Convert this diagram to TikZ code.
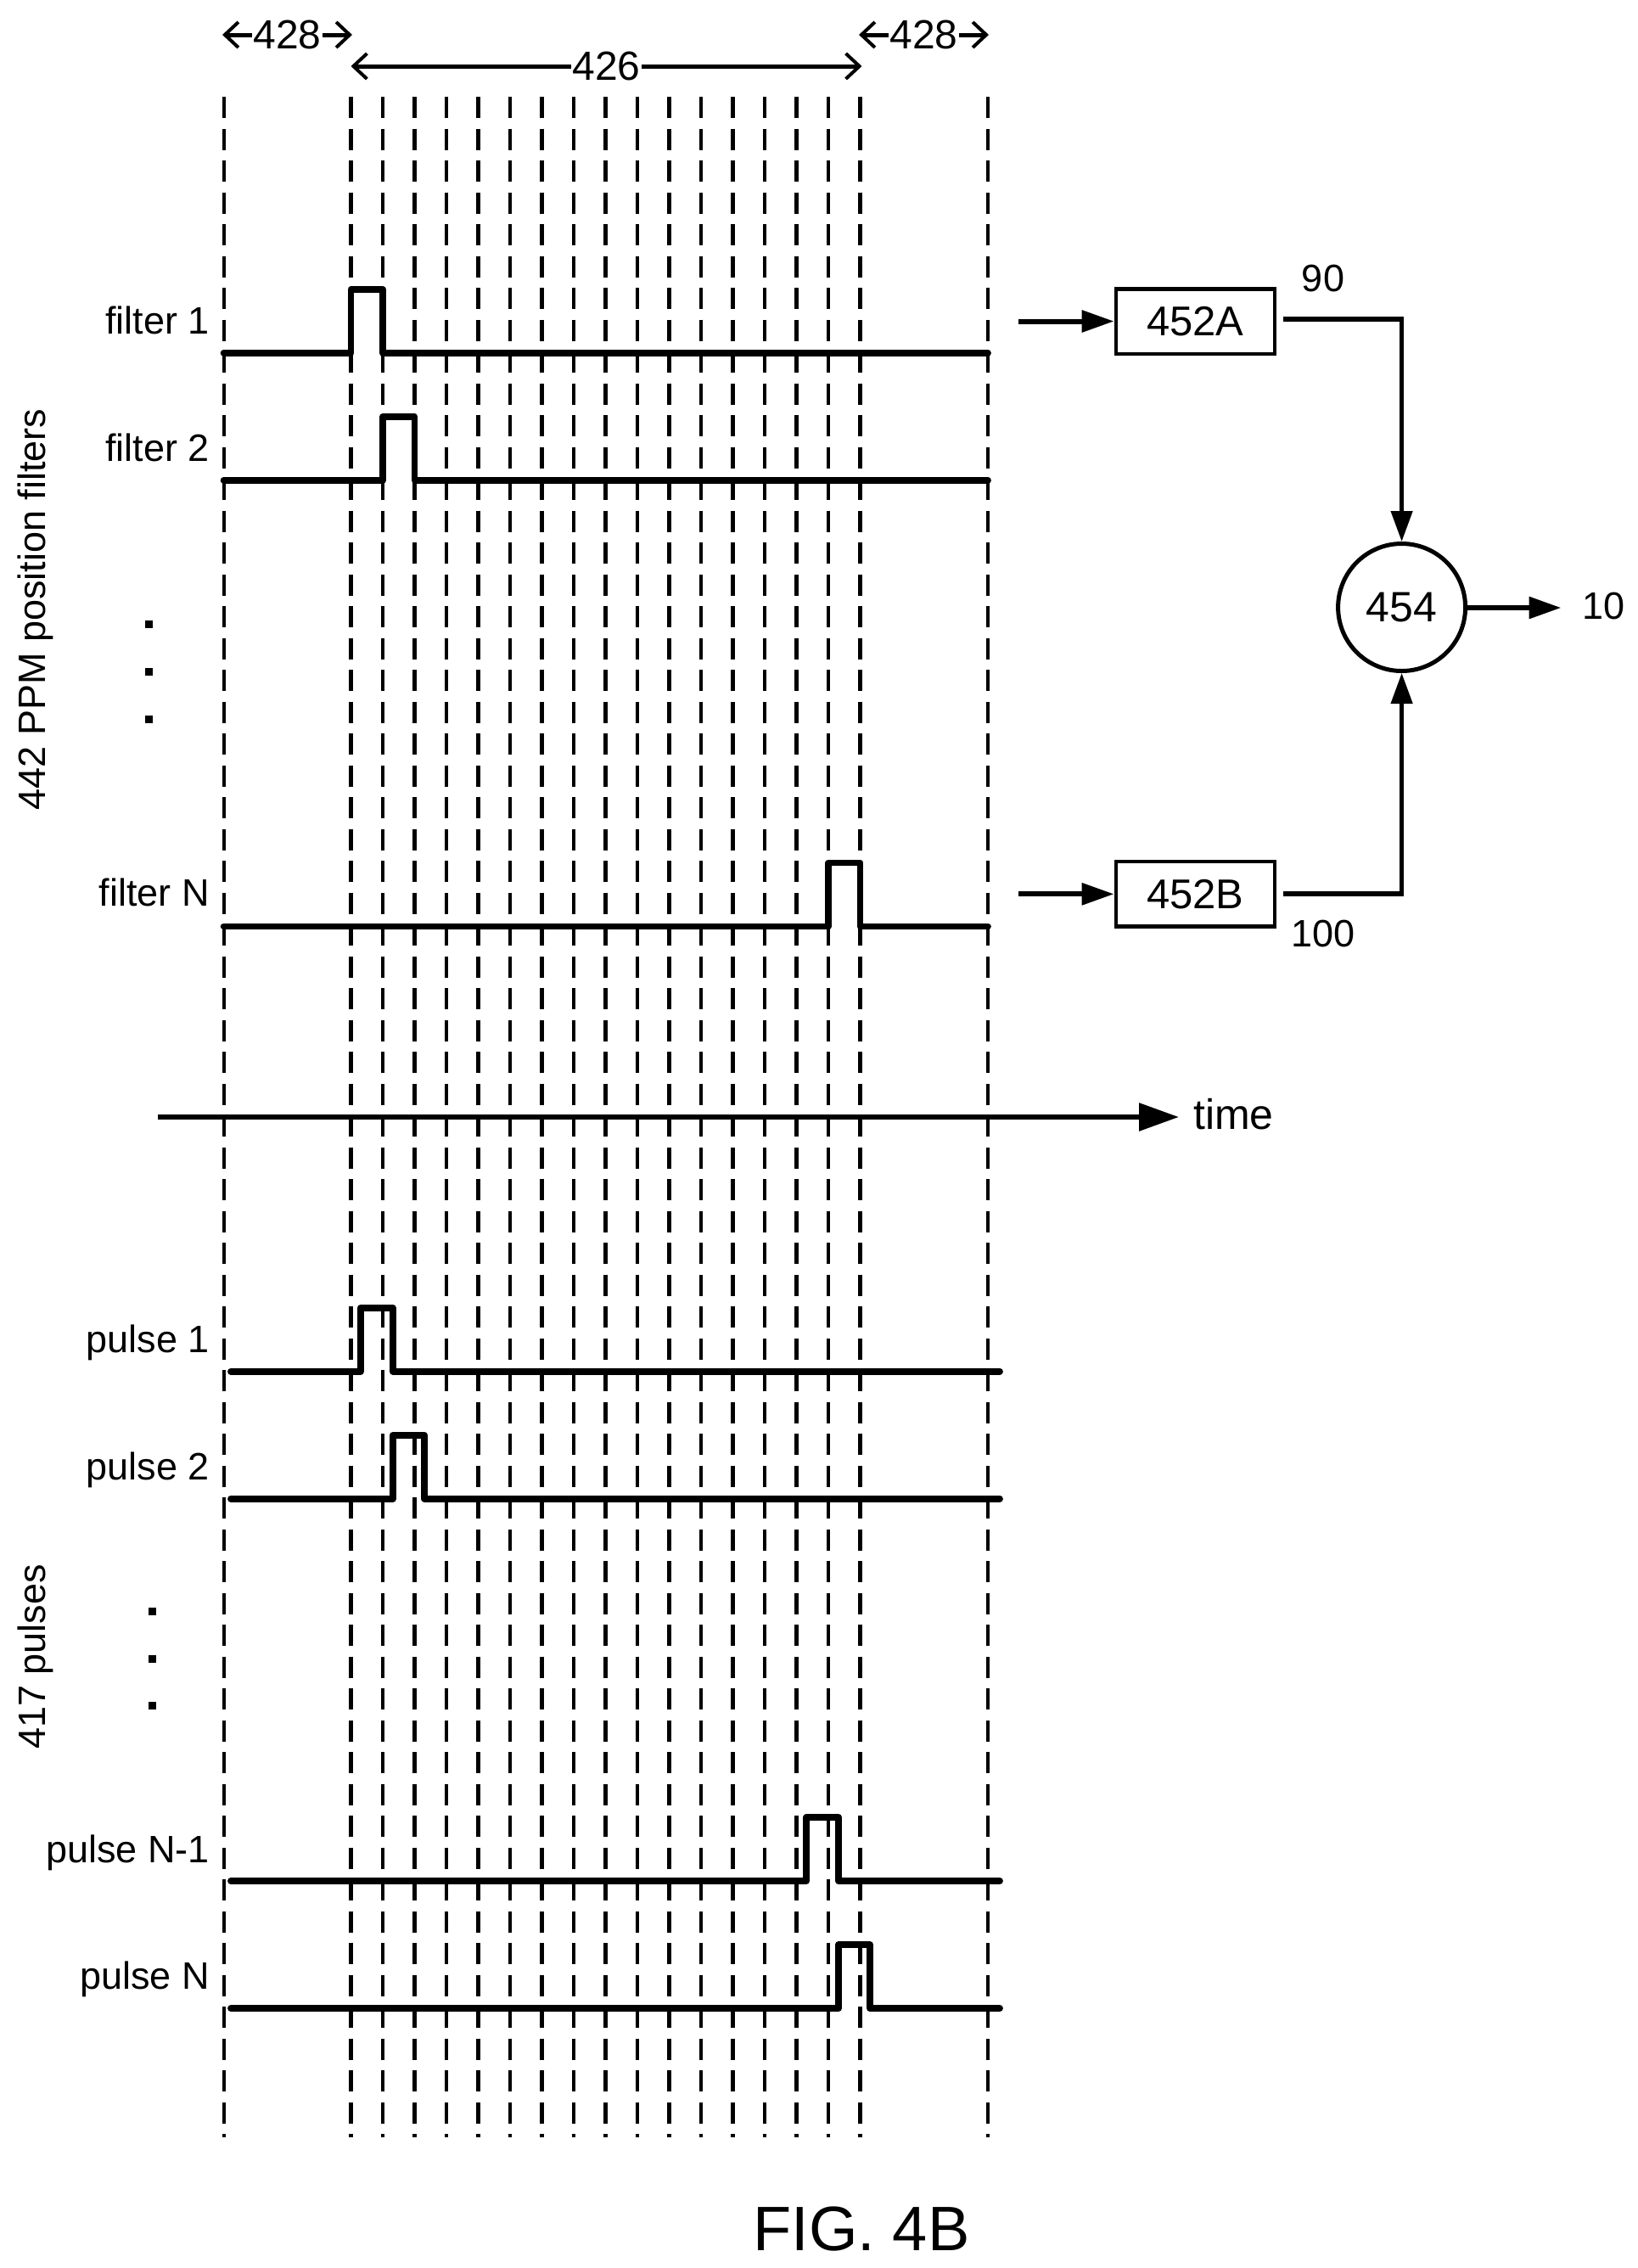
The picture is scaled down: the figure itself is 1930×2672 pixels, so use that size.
\documentclass[tikz,border=0pt]{standalone}
\usepackage{fontspec}
\setmainfont{Liberation Sans}
\usetikzlibrary{arrows.meta,calc}
\newcommand{\fs}[1]{\fontsize{#1}{#1}\selectfont}
\tikzset{
  x=1pt,y=-1pt,
  gridline/.style={line width=4.2pt,dash pattern=on 25pt off 12.5pt},
  signal/.style={line width=7.8pt,line join=round,line cap=round},
  hwire/.style={line width=6pt},
  vwire/.style={line width=4.5pt},
  hflow/.style={hwire,-{Triangle[length=38pt,width=25pt]}},
  vflow/.style={vwire,-{Triangle[length=36pt,width=25pt]}},
  bigflow/.style={hwire,-{Triangle[length=47pt,width=32pt]}},
  span/.style={line width=5pt,{Straight Barb[length=16pt,width=30pt,line width=4pt]}-{Straight Barb[length=16pt,width=30pt,line width=4pt]}},
  lab/.style={font=\fs{45},inner sep=0pt,anchor=base east},
  num/.style={font=\fs{45},inner sep=0pt},
  dim/.style={font=\fs{48},inner sep=0pt,fill=white,inner xsep=1pt},
  blockbox/.style={draw,line width=4.5pt,minimum width=187pt,minimum height=76.5pt,inner sep=0pt,font=\fs{49}},
  sumnode/.style={draw,circle,line width=5pt,minimum size=150pt,inner sep=0pt,font=\fs{50}},
  dotmark/.style={fill,minimum width=9.3pt,minimum height=9pt,inner sep=0pt}
}
\begin{document}
\begin{tikzpicture}
\useasboundingbox (0,0) rectangle (1930,2672);
% vertical dashed lines
\foreach \xx in {263.6,1164}{\draw[gridline] (\xx,114) -- (\xx,2518);}
\foreach \i in {0,...,16}{\draw[gridline] ({413.5+37.5*\i},114) -- ({413.5+37.5*\i},2518);}
% span arrows
\coordinate (a1) at (262,41); \coordinate (a2) at (415,41);
\coordinate (b1) at (413.5,78); \coordinate (b2) at (1015.5,78);
\coordinate (c1) at (1012,41); \coordinate (c2) at (1165,41);
\draw[span] (a1) -- node[dim] (l428a) {428} (a2);
\draw[span] (b1) -- node[dim] (l426) {426} (b2);
\draw[span] (c1) -- node[dim] (l428b) {428} (c2);
% filter signals
\draw[signal] (263.6,415.7)--(413.5,415.7)--(413.5,341)--(451,341)--(451,415.7)--(1164,415.7);
\draw[signal] (263.6,565.7)--(451,565.7)--(451,491)--(488.5,491)--(488.5,565.7)--(1164,565.7);
\draw[signal] (263.6,1091.5)--(976,1091.5)--(976,1016.5)--(1013.5,1016.5)--(1013.5,1091.5)--(1164,1091.5);
% pulse signals
\draw[signal] (272,1615.7)--(424.7,1615.7)--(424.7,1540.7)--(462.7,1540.7)--(462.7,1615.7)--(1178,1615.7);
\draw[signal] (272,1765.7)--(462.7,1765.7)--(462.7,1690.7)--(500,1690.7)--(500,1765.7)--(1178,1765.7);
\draw[signal] (272,2216)--(950,2216)--(950,2141)--(988,2141)--(988,2216)--(1178,2216);
\draw[signal] (272,2366)--(988,2366)--(988,2291)--(1025,2291)--(1025,2366)--(1178,2366);
% labels
\node[lab] (f1) at (247,393) {filter 1};
\node[lab] (f2) at (247,543) {filter 2};
\node[lab] (fN) at (247,1067) {filter N};
\node[lab] (p1) at (247,1593) {pulse 1};
\node[lab] (p2) at (247,1743) {pulse 2};
\node[lab] (pN1) at (247,2194) {pulse N-1};
\node[lab] (pN) at (247,2343) {pulse N};
\node[num,rotate=90,anchor=base] (g1) at (53.5,718) {442 PPM position filters};
\node[num,rotate=90,anchor=base] (g2) at (53.5,1952) {417 pulses};
% dots
\foreach \yy in {735,791,847}{\node[dotmark] at (175.7,\yy) {};}
\foreach \yy in {1898,1954,2009}{\node[dotmark] at (179.5,\yy) {};}
% time axis
\coordinate (t0) at (186,1316);
\coordinate (te) at (1389,1316);
\node[font=\fs{50},inner sep=0pt,anchor=base west] (time) at (1406,1330) {time};
\draw[bigflow] (t0) -- (te);
% blocks
\node[blockbox] (A) at (1408.4,378.5) {452A};
\node[blockbox] (B) at (1408.4,1053.3) {452B};
\node[sumnode] (S) at (1651.6,715.5) {454};
\coordinate (ia) at (1200,378.5); \coordinate (ib) at (1200,1053.3);
\coordinate (oa) at (1512,376); \coordinate (ob) at (1512,1053);
\coordinate (ka) at (S.north |- oa); \coordinate (kb) at (S.south |- ob);
\draw[hflow] (ia) -- (A.west);
\draw[hflow] (ib) -- (B.west);
\draw[hwire] (oa) -- ($(ka)+(2.25,0)$);
\draw[vflow] ($(ka)+(0,-3)$) -- (S.north);
\draw[hwire] (ob) -- ($(kb)+(2.25,0)$);
\draw[vflow] ($(kb)+(0,3)$) -- (S.south);
\node[num] (n90) at (1559,328) {90};
\node[num] (n100) at (1559,1100) {100};
\node[num,anchor=base west] (n10) at (1864,729.5) {10};
\coordinate (oe) at (1839.5,716);
\draw[hflow] (S.east |- oe) -- (oe);
% caption
\node[font=\fs{74},inner sep=0pt,anchor=base] (fig) at (1015,2651) {FIG. 4B};
\end{tikzpicture}
\end{document}
